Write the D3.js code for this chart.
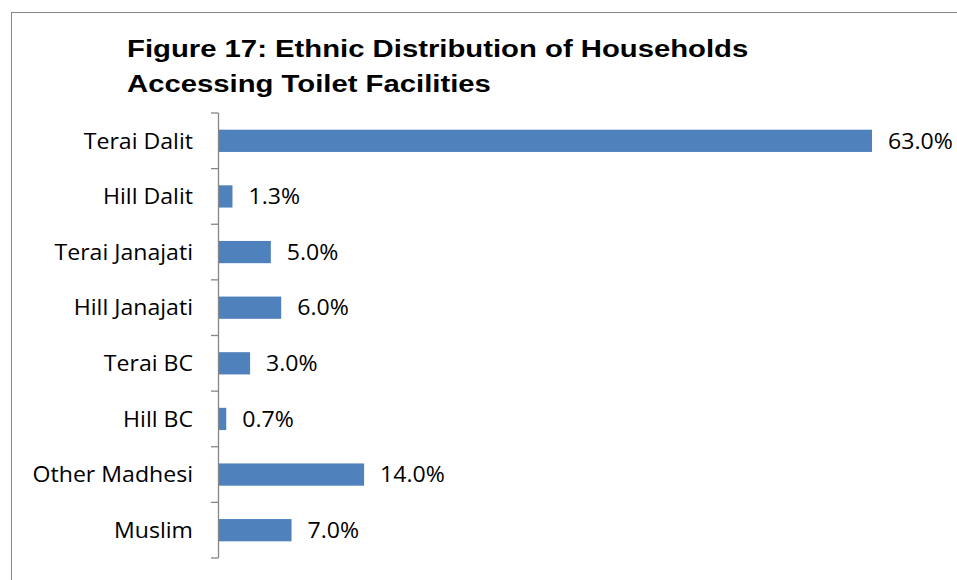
<!DOCTYPE html>
<html>
<head>
<meta charset="utf-8">
<script src="https://cdn.jsdelivr.net/npm/d3@7"></script>
<style>
  html, body { margin: 0; padding: 0; background: #fff; }
  svg { display: block; }
</style>
</head>
<body>
<svg id="chart" width="957" height="580"></svg>
<script>
// Household shares by ethnic group (percent)
const categories = ["Terai Dalit", "Hill Dalit", "Terai Janajati", "Hill Janajati",
                    "Terai BC", "Hill BC", "Other Madhesi", "Muslim"];
const values = [63.0, 1.3, 5.0, 6.0, 3.0, 0.7, 14.0, 7.0];
const titleLines = ["Figure 17: Ethnic Distribution of Households",
                    "Accessing Toilet Facilities"];

const svg = d3.select("#chart");
const W = 957, H = 580;
const labelFont = "'Open Sans', 'Noto Sans', sans-serif";
const labelSize = 22, labelStretch = 1.05;   // slightly widened glyphs
const titleStretch = 1.22;

// outer frame (runs off the right and bottom edges)
svg.append("rect")
  .attr("x", 11.5).attr("y", 12.5)
  .attr("width", W + 20).attr("height", H + 20)
  .attr("fill", "#fff").attr("stroke", "#868686").attr("stroke-width", 1);

// title
svg.append("g").selectAll("text")
  .data(titleLines)
  .join("text")
  .attr("transform", (d, i) => `translate(127,${57 + i * 35}) scale(${titleStretch},1)`)
  .attr("font-family", "'Liberation Sans', Arial, sans-serif")
  .attr("font-weight", "bold").attr("font-size", 24).attr("fill", "#000")
  .text(d => d);

const plotLeft = 219, plotTop = 113, plotBottom = 558;
const x = d3.scaleLinear().domain([0, 70]).range([plotLeft, plotLeft + 70 * (653 / 63)]);
const y = d3.scaleBand().domain(categories).range([plotTop, plotBottom])
  .paddingInner(0.6).paddingOuter(0.3);
const step = y.step();

// bars
svg.append("g").selectAll("rect")
  .data(categories)
  .join("rect")
  .attr("x", x(0))
  .attr("y", d => y(d))
  .attr("width", (d, i) => x(values[i]) - x(0))
  .attr("height", y.bandwidth())
  .attr("fill", "#4F81BD");

// category axis: vertical line with ticks at band boundaries
const axis = svg.append("g").attr("stroke", "#868686").attr("stroke-width", 1.3);
axis.append("line")
  .attr("x1", plotLeft - 0.5).attr("x2", plotLeft - 0.5)
  .attr("y1", plotTop).attr("y2", plotBottom);
const boundaries = categories.map(c => y(c) - step * 0.3).concat([plotBottom]);
axis.selectAll("line.tick")
  .data(boundaries)
  .join("line").attr("class", "tick")
  .attr("x1", plotLeft - 8).attr("x2", plotLeft - 0.5)
  .attr("y1", d => d).attr("y2", d => d);

// category labels
svg.append("g").selectAll("text")
  .data(categories)
  .join("text")
  .attr("transform", d => `translate(193,${y(d) + y.bandwidth() / 2}) scale(${labelStretch},1)`)
  .attr("dy", "0.35em")
  .attr("text-anchor", "end")
  .attr("font-family", labelFont).attr("font-size", labelSize).attr("fill", "#000")
  .text(d => d);

// value labels
svg.append("g").selectAll("text")
  .data(categories)
  .join("text")
  .attr("transform", (d, i) => `translate(${x(values[i]) + 16},${y(d) + y.bandwidth() / 2}) scale(${labelStretch},1)`)
  .attr("dy", "0.35em")
  .attr("font-family", labelFont).attr("font-size", labelSize).attr("fill", "#000")
  .text((d, i) => values[i].toFixed(1) + "%");
</script>
</body>
</html>
